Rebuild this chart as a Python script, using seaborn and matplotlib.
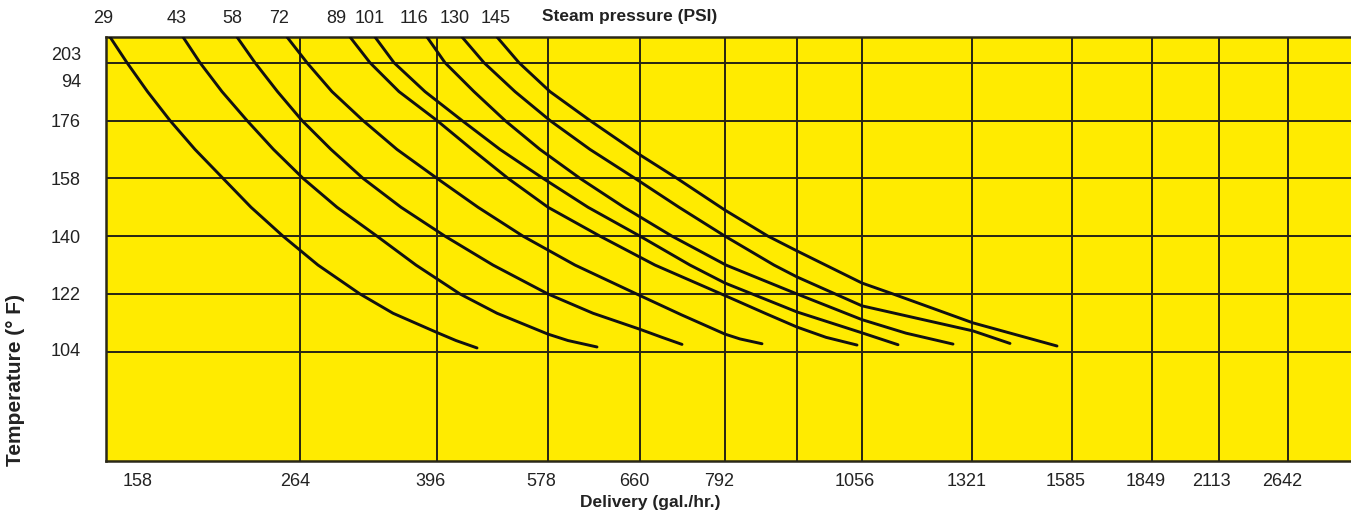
import pandas as pd
import matplotlib
matplotlib.use("Agg")
import matplotlib.pyplot as plt
import seaborn as sns

sns.set_style("white")
plt.rcParams['font.family'] = ['Liberation Sans Narrow', 'Liberation Sans', 'DejaVu Sans']

# Steam pressure (PSI) of each curve
pressures = [29, 43, 58, 72, 89, 101, 116, 130, 145]

# Curve points: x = position along the delivery scale (chart units), t = temperature (F)
c29_x = [4, 21, 41.5, 64, 89, 117, 145, 177, 212, 254, 287, 331, 350, 371]
c29_t = [202, 194, 185, 176, 167, 158, 149, 140, 131, 122, 116, 110, 107.5, 105.2]
c43_x = [77, 94, 116, 141, 167.5, 197, 231, 271, 310, 354, 391, 442, 462, 491]
c43_t = [202, 194, 185, 176, 167, 158, 149, 140, 131, 122, 116, 109.5, 107.5, 105.5]
c58_x = [131, 149, 171.5, 196, 225, 257, 295, 339, 387, 442, 487, 534, 556, 576]
c58_t = [202, 194, 185, 176, 167, 158, 149, 140, 131, 122, 116, 111, 108.5, 106.3]
c72_x = [181, 201, 226, 257, 291, 331, 372, 417, 469, 534, 575.5, 619, 634, 656]
c72_t = [202, 194, 185, 176, 167, 158, 149, 140, 131, 121.5, 115.5, 109.5, 108, 106.5]
c89_x = [244, 264, 293, 331, 366, 402, 442, 494, 549, 619, 659, 691, 720, 751]
c89_t = [202, 194, 185, 176, 167, 158, 149, 140, 131, 121.5, 116, 111.7, 108.5, 106.1]
c101_x = [269, 288, 319, 356, 394, 437, 482, 534, 584, 619, 691, 756, 792]
c101_t = [202, 194, 185, 176, 167, 158, 149, 140, 131, 125.4, 116.4, 109.9, 106.2]
c116_x = [321, 339, 368, 399, 434, 474, 518, 566, 620, 691, 756, 800, 847]
c116_t = [202, 194, 185, 176, 167, 158, 149, 140, 131, 122, 114, 109.8, 106.4]
c130_x = [356, 378, 409, 444, 484, 529, 573, 619, 668, 691, 756, 810, 867, 904]
c130_t = [202, 194, 185, 176, 167, 158, 149, 140, 131, 127.3, 118.3, 114.5, 110.5, 106.6]
c145_x = [391, 413, 444, 484, 534, 571, 619, 662, 691, 756, 787, 867, 951]
c145_t = [202, 194, 185, 176, 165.3, 158, 148.1, 140, 135.4, 125.4, 122, 113, 105.8]

curves_x = [c29_x, c43_x, c58_x, c72_x, c89_x, c101_x, c116_x, c130_x, c145_x]
curves_t = [c29_t, c43_t, c58_t, c72_t, c89_t, c101_t, c116_t, c130_t, c145_t]

# Grid and axis labels
temp_lines = [194, 176, 158, 140, 122, 104]
delivery_lines = [194, 331, 442, 534, 619, 691, 756, 866, 966, 1046, 1113, 1182]
delivery_label_pos = [32, 189, 324, 435, 528, 613, 749, 861, 960, 1040, 1105, 1176]
delivery_labels = ["158", "264", "396", "578", "660", "792", "1056", "1321",
                   "1585", "1849", "2113", "2642"]
temp_label_pos = [197, 188.6, 176, 158, 140, 122, 104.6]
temp_labels = ["203", "94", "176", "158", "140", "122", "104"]
pressure_label_pos = [-3, 71, 126, 173, 230, 264, 308, 349, 390]

# long-form table for seaborn
rows = []
for p, xs, ts in zip(pressures, curves_x, curves_t):
    for x, t in zip(xs, ts):
        rows.append({"psi": str(p), "pos": x, "temp": t})
df = pd.DataFrame(rows)

fig = plt.figure(figsize=(13.51, 5.17), dpi=100)
ax = fig.add_axes([106 / 1351, 56 / 517, 1245 / 1351, 424 / 517])
ax.set_facecolor('#ffeb00')

for t in temp_lines:
    ax.axhline(t, color='#262414', lw=1.4, zorder=1)
for x in delivery_lines:
    ax.axvline(x, color='#262414', lw=1.4, zorder=1)

sns.lineplot(data=df, x="pos", y="temp", hue="psi", units="psi", estimator=None,
             palette=['#111111'] * len(pressures), linewidth=2.1, legend=False,
             ax=ax, zorder=3)

ax.set_xlim(0, 1245)
ax.set_ylim(70, 202)

ax.set_xticks(delivery_label_pos, delivery_labels)
ax.set_yticks(temp_label_pos, temp_labels)
ax.tick_params(axis='x', length=0, pad=8.5, labelsize=13, colors='#222222')
ax.tick_params(axis='y', length=0, pad=18, labelsize=13, colors='#222222')
ax.set_xlabel('')
ax.set_ylabel('')

for side in ['top', 'left', 'bottom']:
    ax.spines[side].set_color('#2a2818')
    ax.spines[side].set_linewidth(1.8)
ax.spines['right'].set_visible(False)

# steam pressure labels along the top
for pos, p in zip(pressure_label_pos, pressures):
    ax.annotate(str(p), xy=(pos, 1.0), xycoords=('data', 'axes fraction'),
                xytext=(0, 7), textcoords='offset points', ha='center', va='bottom',
                fontsize=13, color='#222222', annotation_clip=False)

fig.text(630 / 1351, 1 - 17 / 517, 'Steam pressure (PSI)', ha='center', va='center',
         fontsize=12.5, fontweight='bold', color='#222222')
fig.text(650 / 1351, 1 - 503 / 517, 'Delivery (gal./hr.)', ha='center', va='center',
         fontsize=12.5, fontweight='bold', color='#222222')
fig.text(16 / 1351, 1 - 380 / 517, 'Temperature (° F)', ha='center', va='center',
         rotation=90, fontsize=15, fontweight='bold', color='#222222')

fig.savefig('out.png', dpi=100, facecolor='white')
